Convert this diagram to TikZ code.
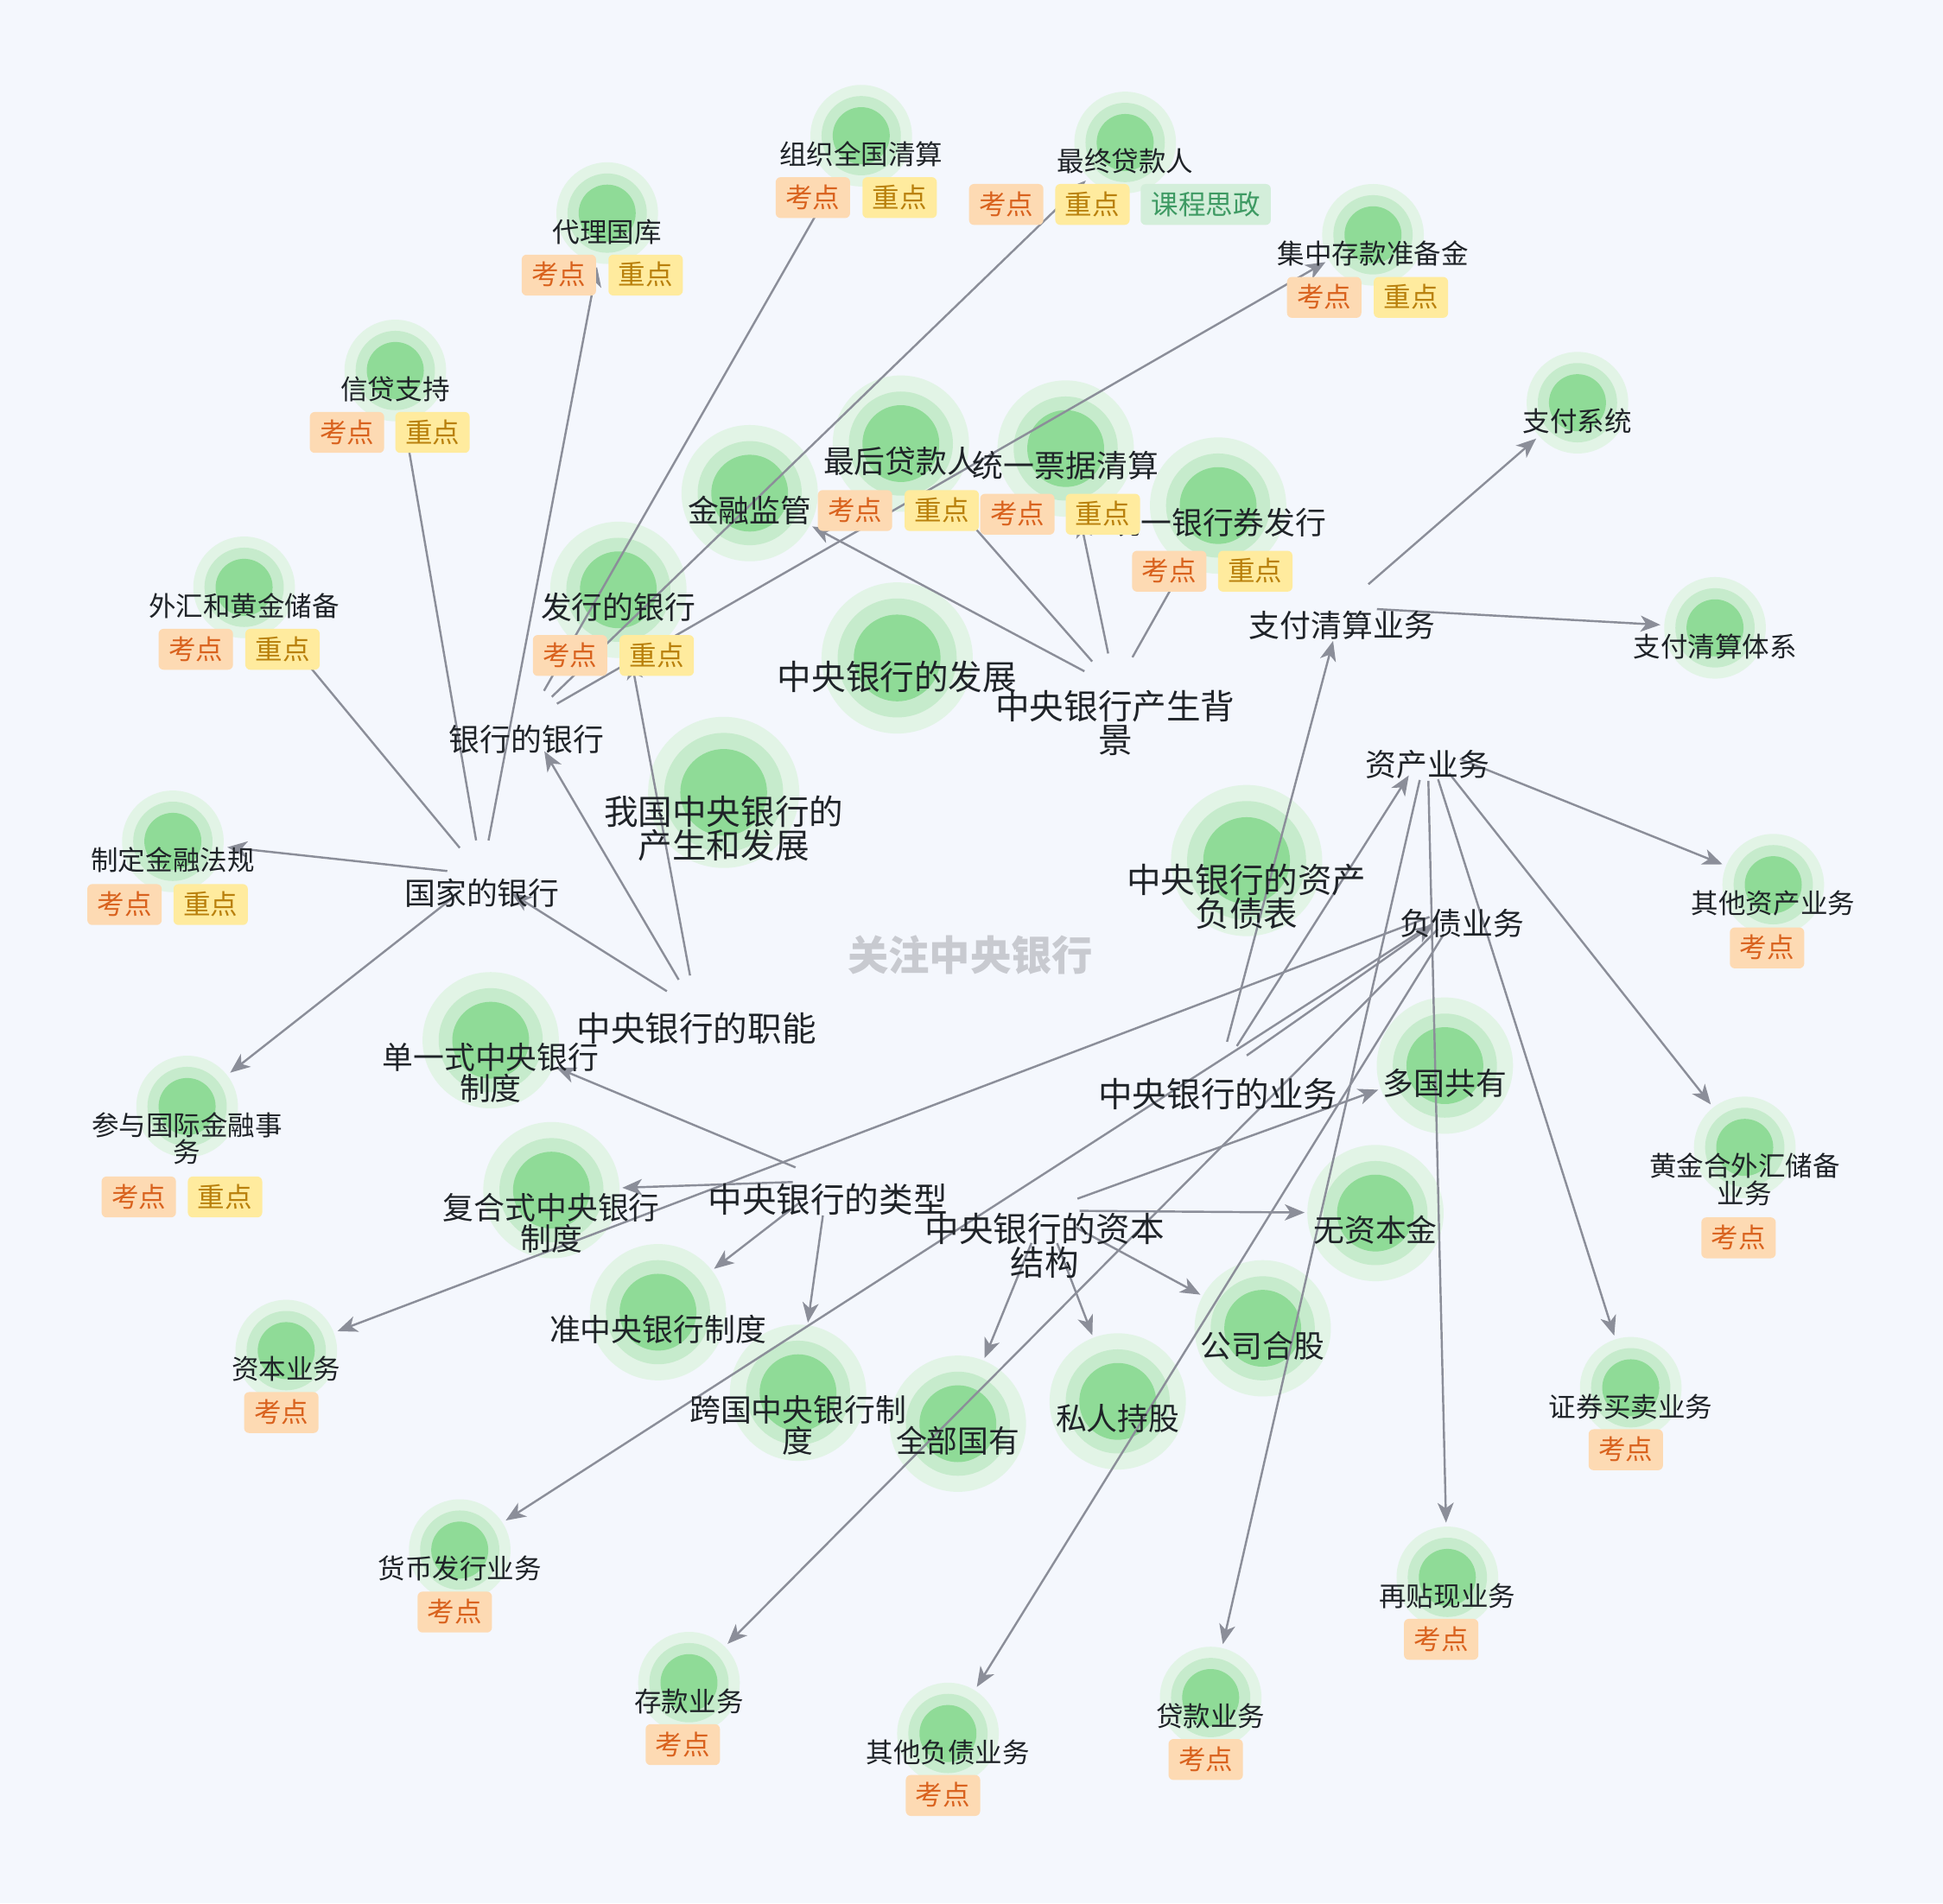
\documentclass[tikz,border=0pt]{standalone}
\usepackage{fontspec}
\setmainfont{Noto Sans CJK SC}
\usetikzlibrary{arrows.meta}
\definecolor{bgc}{HTML}{F4F7FD}
\definecolor{cO}{HTML}{E2F4E6}
\definecolor{cM}{HTML}{C6EBCC}
\definecolor{cI}{HTML}{8FDB97}
\definecolor{txt}{HTML}{1F2328}
\definecolor{edgec}{HTML}{8B8E99}
\definecolor{kdf}{HTML}{FDDAB3}
\definecolor{kdt}{HTML}{D9621E}
\definecolor{zdf}{HTML}{FFEB9E}
\definecolor{zdt}{HTML}{B9800C}
\definecolor{szf}{HTML}{D3EEDA}
\definecolor{szt}{HTML}{3E9A63}
\definecolor{wmc}{HTML}{C8CAD0}
\newcommand\ml[1]{\vtop{\let\\\cr\lineskiplimit=-100pt\lineskip=0pt\halign{\hfil##\hfil\cr#1\crcr}}}
\tikzset{
  hub/.style={circle, minimum size=56pt, inner sep=0pt, draw=none},
  anS/.style={circle, minimum size=88pt, inner sep=0pt, draw=none},
  anM/.style={circle, minimum size=114pt, inner sep=0pt, draw=none},
  anL/.style={circle, minimum size=124pt, inner sep=0pt, draw=none},
  edge/.style={draw=edgec, line width=1.7pt, -{Stealth[length=16pt,width=13pt,inset=4.5pt]}},
  lblS/.style={anchor=base, inner sep=0pt, text=txt, font=\fontsize{22}{22}\selectfont},
  lblM/.style={anchor=base, inner sep=0pt, text=txt, font=\fontsize{25}{25}\selectfont},
  lblL/.style={anchor=base, inner sep=0pt, text=txt, font=\fontsize{27.6}{27.2}\selectfont},
  tagbase/.style={rounded corners=4pt, minimum height=33pt, inner sep=0pt, text height=17pt, text depth=1pt, font=\fontsize{22}{22}\selectfont},
  kd/.style={tagbase, fill=kdf, text=kdt, minimum width=60pt},
  zd/.style={tagbase, fill=zdf, text=zdt, minimum width=60pt},
  sz/.style={tagbase, fill=szf, text=szt, minimum width=105pt},
}
\newcommand\cS[3]{\node[anS] (#1) at (#2,#3) {};
  \fill[cO] (#1.center) circle[radius=41pt]; \fill[cM] (#1.center) circle[radius=32pt]; \fill[cI] (#1.center) circle[radius=23pt];}
\newcommand\cM[3]{\node[anM] (#1) at (#2,#3) {};
  \fill[cO] (#1.center) circle[radius=55pt]; \fill[cM] (#1.center) circle[radius=42pt]; \fill[cI] (#1.center) circle[radius=31pt];}
\newcommand\cL[3]{\node[anL] (#1) at (#2,#3) {};
  \fill[cO] (#1.center) circle[radius=61pt]; \fill[cM] (#1.center) circle[radius=48pt]; \fill[cI] (#1.center) circle[radius=35pt];}
\newcommand\lab[4]{\path (#1.center) ++(0,#3) node[#2] (#1-t) {\ml{#4}};}
\newcommand\kd[3]{\node[kd] (#1) at (#2,#3) {考点};}
\newcommand\zd[3]{\node[zd] (#1) at (#2,#3) {重点};}
\newcommand\sz[3]{\node[sz] (#1) at (#2,#3) {课程思政};}
\begin{document}
\begin{tikzpicture}[x=1pt,y=-1pt]
\useasboundingbox (0,0) rectangle (1568,1536);
\fill[bgc] (0,0) rectangle (1568,1536);

% ---- circles (leaf nodes)
\cS{zzqs}{695}{109.5}
\cS{zzdk}{908}{115}
\cS{dlgk}{490}{172}
\cS{jzck}{1108}{189.5}
\cS{xdzc}{319}{299}
\cS{zfxt}{1273}{325}
\cS{whhj}{197}{474}
\cS{zfqstx}{1384}{506.7}
\cS{zdfg}{139.5}{679}
\cS{qtzc}{1431}{714}
\cS{cygj}{151}{893}
\cS{hjwh}{1408}{926}
\cS{zbyw}{231}{1090}
\cS{zqmm}{1316}{1120}
\cS{hbfx}{371}{1251}
\cS{ztx}{1168}{1273}
\cS{ckyw}{556}{1358}
\cS{dkyw}{977}{1370}
\cS{qtfz}{765}{1399}
\cM{jrjg}{605}{398}
\cM{zhdk}{727}{358}
\cM{tyqs}{860}{362}
\cM{tyfx}{983}{408}
\cM{fxyh}{499}{476}
\cM{dys}{396}{839.5}
\cM{dggy}{1166}{860}
\cM{fhs}{445}{960.5}
\cM{wzbj}{1110}{979}
\cM{zzy}{531}{1059}
\cM{gshg}{1019}{1072}
\cM{kgzy}{644}{1124}
\cM{bbgy}{773}{1149}
\cM{srcg}{902}{1131}
\cL{zyfz}{724}{531}
\cL{wgzy}{584}{639.5}
\cL{zcfzb}{1006}{694.5}

% ---- hub nodes
\node[hub] (G) at (389,706) {};
\node[hub] (B) at (425,582) {};
\node[hub] (Z) at (562,815) {};
\node[hub] (C) at (900,555) {};
\node[hub] (P) at (1083,490) {};
\node[hub] (A) at (1152,602) {};
\node[hub] (Lb) at (1180,730) {};
\node[hub] (Y) at (983,868) {};
\node[hub] (T) at (668,953) {};
\node[hub] (K) at (843,977) {};

% ---- connectors
\foreach \a/\b in {Z/B, Z/G, Z/fxyh, B/zzqs, B/zzdk, B/jzck,
  G/xdzc, G/dlgk, G/whhj, G/zdfg, G/cygj,
  C/jrjg, C/zhdk, C/tyqs, C/tyfx,
  T/dys, T/fhs, T/zzy, T/kgzy,
  K/dggy, K/wzbj, K/gshg, K/srcg, K/bbgy,
  Y/P, Y/A, Y/Lb,
  A/qtzc, A/hjwh, A/zqmm, A/ztx, A/dkyw,
  Lb/zbyw, Lb/hbfx, Lb/ckyw, Lb/qtfz,
  P/zfxt, P/zfqstx}
  \draw[edge] (\a) -- (\b);

% ---- labels
\lab{zzqs}{lblS}{23.4}{组织全国清算}
\lab{zzdk}{lblS}{23.4}{最终贷款人}
\lab{dlgk}{lblS}{23.4}{代理国库}
\lab{jzck}{lblS}{23.4}{集中存款准备金}
\lab{xdzc}{lblS}{23.4}{信贷支持}
\lab{zfxt}{lblS}{23.4}{支付系统}
\lab{whhj}{lblS}{23.4}{外汇和黄金储备}
\lab{zfqstx}{lblS}{23.4}{支付清算体系}
\lab{zdfg}{lblS}{23.4}{制定金融法规}
\lab{qtzc}{lblS}{23.4}{其他资产业务}
\lab{cygj}{lblS}{23.4}{参与国际金融事\\务}
\lab{hjwh}{lblS}{23.4}{黄金合外汇储备\\业务}
\lab{zbyw}{lblS}{23.4}{资本业务}
\lab{zqmm}{lblS}{23.4}{证券买卖业务}
\lab{hbfx}{lblS}{23.4}{货币发行业务}
\lab{ztx}{lblS}{23.4}{再贴现业务}
\lab{ckyw}{lblS}{23.4}{存款业务}
\lab{dkyw}{lblS}{23.4}{贷款业务}
\lab{qtfz}{lblS}{23.4}{其他负债业务}
\lab{jrjg}{lblM}{23.5}{金融监管}
\lab{zhdk}{lblM}{23.5}{最后贷款人}
\lab{tyfx}{lblM}{23.5}{统一银行券发行}
\lab{tyqs}{lblM}{23.5}{统一票据清算}
\lab{fxyh}{lblM}{23.5}{发行的银行}
\lab{dys}{lblM}{23.5}{单一式中央银行\\制度}
\lab{dggy}{lblM}{23.5}{多国共有}
\lab{fhs}{lblM}{23.5}{复合式中央银行\\制度}
\lab{wzbj}{lblM}{23.5}{无资本金}
\lab{zzy}{lblM}{23.5}{准中央银行制度}
\lab{gshg}{lblM}{23.5}{公司合股}
\lab{kgzy}{lblM}{23.5}{跨国中央银行制\\度}
\lab{bbgy}{lblM}{23.5}{全部国有}
\lab{srcg}{lblM}{23.5}{私人持股}
\lab{zyfz}{lblL}{26}{中央银行的发展}
\lab{wgzy}{lblL}{26}{我国中央银行的\\产生和发展}
\lab{zcfzb}{lblL}{26}{中央银行的资产\\负债表}
\lab{G}{lblM}{24.5}{国家的银行}
\lab{B}{lblM}{24.5}{银行的银行}
\lab{P}{lblM}{24.5}{支付清算业务}
\lab{A}{lblM}{24.5}{资产业务}
\lab{Lb}{lblM}{24.5}{负债业务}
\lab{Z}{lblL}{25.5}{中央银行的职能}
\lab{C}{lblL}{25.5}{中央银行产生背\\景}
\lab{Y}{lblL}{25.5}{中央银行的业务}
\lab{T}{lblL}{25.5}{中央银行的类型}
\lab{K}{lblL}{25.5}{中央银行的资本\\结构}

% ---- tags
\kd{t1a}{656}{159.5} \zd{t1b}{726}{159.5}
\kd{t2a}{812}{165} \zd{t2b}{881.6}{165} \sz{t2c}{973}{165}
\kd{t3a}{451}{222} \zd{t3b}{521}{222}
\kd{t4a}{1068.6}{240} \zd{t4b}{1138.6}{240}
\kd{t5a}{280}{349} \zd{t5b}{349}{349}
\kd{t6a}{690}{412} \zd{t6b}{760}{412}
\kd{t7a}{821}{415} \zd{t7b}{890}{415}
\kd{t8a}{943.6}{461} \zd{t8b}{1013}{461}
\kd{t9a}{460}{529} \zd{t9b}{530}{529}
\kd{t10a}{158}{524} \zd{t10b}{228}{524}
\kd{t11a}{100.5}{730} \zd{t11b}{170}{730}
\kd{t12a}{112}{966} \zd{t12b}{181.6}{966}
\kd{t13}{1426}{765}
\kd{t14}{1403}{999}
\kd{t15}{227}{1140}
\kd{t16}{1312}{1170}
\kd{t17}{367}{1301}
\kd{t18}{1163}{1323}
\kd{t19}{551}{1408}
\kd{t20}{973}{1420}
\kd{t21}{761}{1449}

% ---- watermark
\node[text=wmc, font=\fontsize{33}{33}\selectfont\bfseries, inner sep=0pt] (wm) at (783,771) {关注中央银行};
\end{tikzpicture}
\end{document}
